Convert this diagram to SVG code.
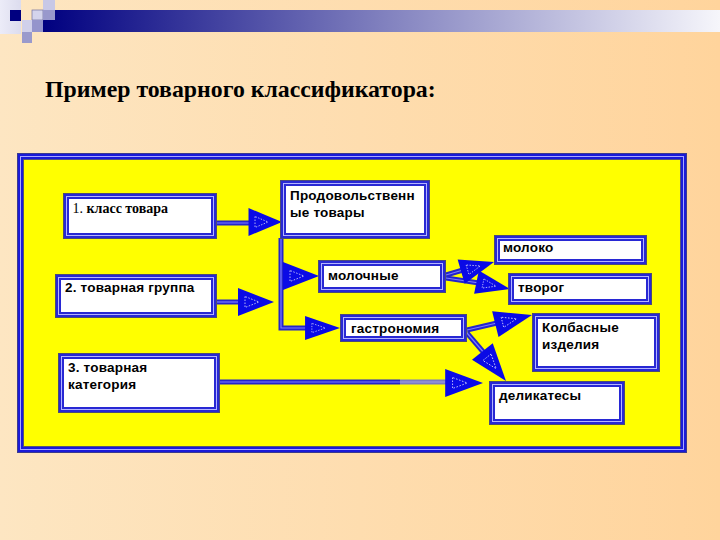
<svg xmlns="http://www.w3.org/2000/svg" xmlns:xlink="http://www.w3.org/1999/xlink" width="720" height="540" viewBox="0 0 720 540">
  <defs>
    <linearGradient id="bg" x1="0" y1="0" x2="1" y2="0">
      <stop offset="0" stop-color="#fde6c2"/>
      <stop offset="1" stop-color="#ffd49c"/>
    </linearGradient>
    <linearGradient id="banner" x1="0" y1="0" x2="1" y2="0">
      <stop offset="0" stop-color="#000080"/>
      <stop offset="0.5" stop-color="#8080be"/>
      <stop offset="1" stop-color="#f6f6fb"/>
    </linearGradient>
    <linearGradient id="strip" x1="0" y1="0" x2="1" y2="0">
      <stop offset="0" stop-color="#ececf8"/>
      <stop offset="1" stop-color="#dcdcee"/>
    </linearGradient>
    <g id="arr">
      <polygon points="0,0 -36,-14 -36,14" fill="#0a0ae6"/>
      <polygon points="-29,-5.5 -29,5.5 -15,0" fill="none" stroke="#ffffff" stroke-width="0.7" stroke-dasharray="1.5 1.5"/>
    </g>
    <style>
      .b0 { fill: #4a4a7a; }
      .b1 { fill: #2828d4; }
      .b2 { fill: none; stroke: #b4b4ff; stroke-width: 1; }
      .b3 { fill: #ffffff; }
      .t { font-family: "Liberation Sans", Arial, sans-serif; font-weight: bold; font-size: 13.5px; letter-spacing: 0.2px; fill: #000000; }
      .ts { font-family: "Liberation Serif", "Times New Roman", serif; font-size: 14px; fill: #000000; }
      .ln { fill: none; stroke: #2424cc; stroke-width: 5; }
      .lni { fill: none; stroke: #7c7cff; stroke-width: 1.2; }
    </style>
  </defs>

  <!-- background -->
  <rect x="0" y="0" width="720" height="540" fill="url(#bg)"/>
  <rect x="0" y="0" width="21" height="34" fill="url(#strip)"/>
  <rect x="43" y="10" width="677" height="22" fill="url(#banner)"/>
  <rect x="10" y="10" width="11" height="11" fill="#000080"/>
  <rect x="43" y="0" width="12" height="10" fill="#c8c8e6"/>
  <rect x="32" y="10" width="11" height="10" fill="#d4d4ec" stroke="#7070a0" stroke-width="0.7"/>
  <rect x="43" y="10" width="12" height="10" fill="#9898cc"/>
  <rect x="22" y="20" width="10" height="12" fill="#d0d0ea"/>
  <rect x="32" y="20" width="11" height="12" fill="#9494cc"/>
  <rect x="22" y="32" width="10" height="11" fill="#9a9acc"/>

  <text x="45" y="97" font-family="'Liberation Serif', 'Times New Roman', serif" font-weight="bold" font-size="23.8" fill="#000000">Пример товарного классификатора:</text>

  <!-- yellow panel -->
  <g id="panel">
    <rect x="17" y="153" width="670" height="300" fill="#3a3a90"/>
    <rect x="18" y="154" width="668" height="298" fill="#1a1ad8"/>
    <rect x="20.5" y="156.5" width="663" height="293" fill="none" stroke="#a8a8ff" stroke-width="1"/>
    <rect x="23" y="159" width="658" height="288" fill="#55557a"/>
    <rect x="24" y="160" width="656" height="286" fill="#ffff00"/>
  </g>

  <!-- connectors -->
  <g id="connectors">
    <path class="ln" d="M217,223 H252"/>
    <path class="lni" d="M217,223 H252"/>
    <path class="ln" d="M217,302 H242"/>
    <path class="lni" d="M217,302 H242"/>
    <path class="ln" d="M281,238 V328 H308"/>
    <path class="lni" d="M281,238 V328 H308"/>
    <path class="ln" d="M446,275 L463,270"/>
    <path class="lni" d="M446,275 L463,270"/>
    <path class="ln" d="M446,278 L479,283"/>
    <path class="lni" d="M446,278 L479,283"/>
    <path class="ln" d="M467,330 L497,323"/>
    <path class="lni" d="M467,330 L497,323"/>
    <path class="ln" d="M467,333 L485,354"/>
    <path class="lni" d="M467,333 L485,354"/>
    <path class="ln" d="M220,382 H400"/>
    <path class="lni" d="M220,382 H400"/>
    <path d="M400,382 H448" fill="none" stroke="#7a7ac4" stroke-width="5"/>
    <path d="M400,382 H448" fill="none" stroke="#a0a0e0" stroke-width="1.2"/>
    <use xlink:href="#arr" href="#arr" transform="translate(282,222) scale(0.93,1)"/>
    <use xlink:href="#arr" href="#arr" transform="translate(274,302)"/>
    <use xlink:href="#arr" href="#arr" transform="translate(319,276)"/>
    <use xlink:href="#arr" href="#arr" transform="translate(340,328) scale(0.97,0.85)"/>
    <use xlink:href="#arr" href="#arr" transform="translate(494,262) rotate(-16.3) scale(0.95,0.9)"/>
    <use xlink:href="#arr" href="#arr" transform="translate(510,289) rotate(11.5) scale(0.95,0.85)"/>
    <use xlink:href="#arr" href="#arr" transform="translate(532,315) rotate(-13.9) scale(1.05,0.95)"/>
    <use xlink:href="#arr" href="#arr" transform="translate(506,381) rotate(51.3) scale(1.05,0.95)"/>
    <use xlink:href="#arr" href="#arr" transform="translate(483,383) scale(1.05,1)"/>
  </g>

  <!-- nodes -->
  <g id="n-class">
    <rect class="b0" x="63" y="193" width="154" height="46"/>
    <rect class="b1" x="64" y="194" width="152" height="44"/>
    <rect class="b2" x="66.5" y="196.5" width="147" height="39"/>
    <rect class="b3" x="69" y="199" width="142" height="34"/>
    <text class="ts" x="72.5" y="213">1. <tspan font-weight="bold">класс товара</tspan></text>
  </g>
  <g id="n-group">
    <rect class="b0" x="55" y="274" width="162" height="44"/>
    <rect class="b1" x="56" y="275" width="160" height="42"/>
    <rect class="b2" x="58.5" y="277.5" width="155" height="37"/>
    <rect class="b3" x="61" y="280" width="150" height="32"/>
    <text class="t" x="65" y="292">2. товарная группа</text>
  </g>
  <g id="n-category">
    <rect class="b0" x="58" y="353" width="162" height="60"/>
    <rect class="b1" x="59" y="354" width="160" height="58"/>
    <rect class="b2" x="61.5" y="356.5" width="155" height="53"/>
    <rect class="b3" x="64" y="359" width="150" height="48"/>
    <text class="t" x="68" y="372">3. товарная</text>
    <text class="t" x="68" y="389">категория</text>
  </g>
  <g id="n-food">
    <rect class="b0" x="280" y="180" width="150" height="59"/>
    <rect class="b1" x="281" y="181" width="148" height="57"/>
    <rect class="b2" x="283.5" y="183.5" width="143" height="52"/>
    <rect class="b3" x="286" y="186" width="138" height="47"/>
    <text class="t" x="290" y="200">Продовольственн</text>
    <text class="t" x="290" y="217">ые товары</text>
  </g>
  <g id="n-dairy">
    <rect class="b0" x="318" y="260" width="128" height="33"/>
    <rect class="b1" x="319" y="261" width="126" height="31"/>
    <rect class="b2" x="321.5" y="263.5" width="121" height="26"/>
    <rect class="b3" x="324" y="266" width="116" height="21"/>
    <text class="t" x="328" y="280">молочные</text>
  </g>
  <g id="n-gastro">
    <rect class="b0" x="340" y="314" width="127" height="28"/>
    <rect class="b1" x="341" y="315" width="125" height="26"/>
    <rect class="b2" x="343.5" y="317.5" width="120" height="21"/>
    <rect class="b3" x="346" y="320" width="115" height="16"/>
    <text class="t" x="351" y="333">гастрономия</text>
  </g>
  <g id="n-milk">
    <rect class="b0" x="494" y="235" width="153" height="30"/>
    <rect class="b1" x="495" y="236" width="151" height="28"/>
    <rect class="b2" x="497.5" y="238.5" width="146" height="23"/>
    <rect class="b3" x="500" y="241" width="141" height="18"/>
    <text class="t" x="503" y="252">молоко</text>
  </g>
  <g id="n-curd">
    <rect class="b0" x="508" y="273" width="144" height="32"/>
    <rect class="b1" x="509" y="274" width="142" height="30"/>
    <rect class="b2" x="511.5" y="276.5" width="137" height="25"/>
    <rect class="b3" x="514" y="279" width="132" height="20"/>
    <text class="t" x="518" y="292">творог</text>
  </g>
  <g id="n-sausage">
    <rect class="b0" x="532" y="313" width="128" height="59"/>
    <rect class="b1" x="533" y="314" width="126" height="57"/>
    <rect class="b2" x="535.5" y="316.5" width="121" height="52"/>
    <rect class="b3" x="538" y="319" width="116" height="47"/>
    <text class="t" x="542" y="332">Колбасные</text>
    <text class="t" x="542" y="349">изделия</text>
  </g>
  <g id="n-deli">
    <rect class="b0" x="489" y="381" width="136" height="44"/>
    <rect class="b1" x="490" y="382" width="134" height="42"/>
    <rect class="b2" x="492.5" y="384.5" width="129" height="37"/>
    <rect class="b3" x="495" y="387" width="124" height="32"/>
    <text class="t" x="499" y="400">деликатесы</text>
  </g>
</svg>
